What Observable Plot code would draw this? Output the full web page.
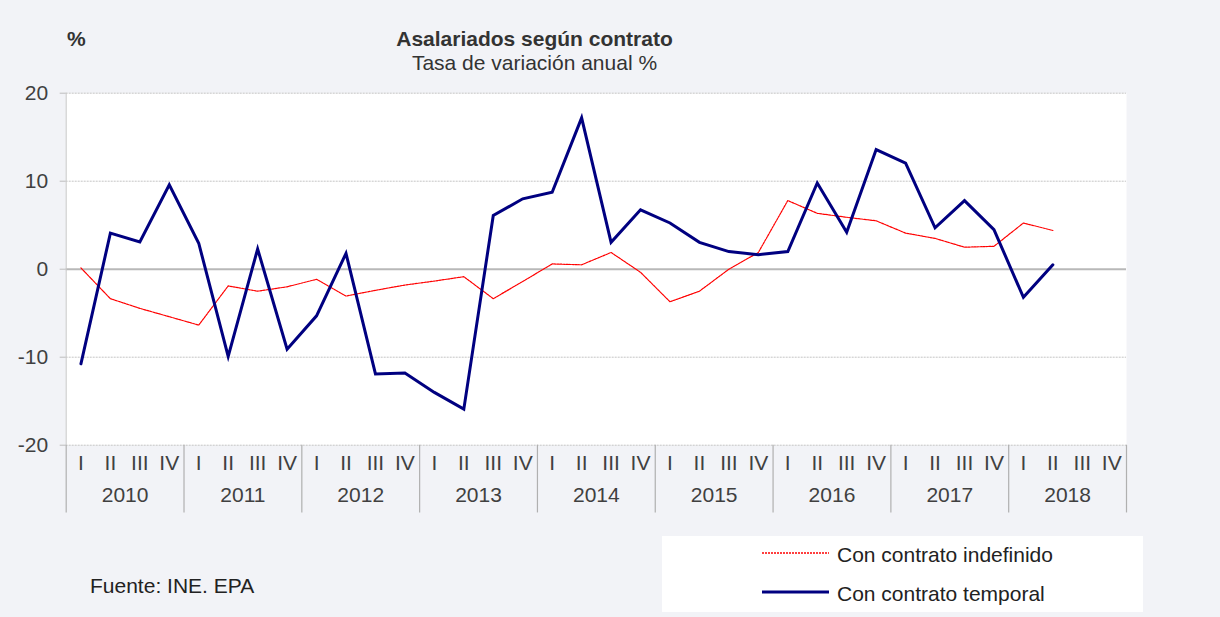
<!DOCTYPE html>
<html>
<head>
<meta charset="utf-8">
<script src="https://cdn.jsdelivr.net/npm/d3@7"></script>
<script src="https://cdn.jsdelivr.net/npm/@observablehq/plot@0.6"></script>
<style>
  html, body { margin: 0; padding: 0; background: #f2f3f7; }
  #wrap { position: relative; width: 1220px; height: 617px; background: #f2f3f7; overflow: hidden;
          font-family: "Liberation Sans", Arial, sans-serif; color: #333; }
  #wrap > svg { position: absolute; left: 0; top: 0; }
  .t { position: absolute; white-space: nowrap; transform: translateY(-50%); font-size: 21px; line-height: 1; }
  #legend { position: absolute; left: 662px; top: 536px; width: 481px; height: 76px; background: #fff; }
  #legend svg { position: absolute; left: 0; top: 0; }
</style>
</head>
<body>
<div id="wrap"></div>
<script>
const quarters = ["I", "II", "III", "IV"];
const years = [2010, 2011, 2012, 2013, 2014, 2015, 2016, 2017, 2018];
const seriesNames = ["Con contrato indefinido", "Con contrato temporal"];
const indefinido = [0.15, -3.35, -4.45, -5.4, -6.35, -1.9, -2.5, -2.0, -1.15, -3.05, -2.4, -1.8,
  -1.35, -0.85, -3.35, -1.4, 0.6, 0.5, 1.9, -0.35, -3.7, -2.5, 0.0, 1.9,
  7.8, 6.35, 5.9, 5.5, 4.1, 3.5, 2.5, 2.6, 5.25, 4.4, null, null];
const temporal = [-10.75, 4.1, 3.1, 9.6, 2.95, -9.9, 2.3, -9.1, -5.3, 1.8, -11.9, -11.8,
  -14.0, -15.9, 6.1, 8.0, 8.75, 17.2, 3.05, 6.75, 5.25, 3.05, 2.0, 1.65,
  2.0, 9.8, 4.2, 13.6, 12.05, 4.7, 7.8, 4.5, -3.2, 0.5, null, null];
const yTicks = [-20, -10, 0, 10, 20];

const rows = [];
years.forEach((yr, yi) => quarters.forEach((q, qi) => {
  const i = yi * 4 + qi;
  rows.push({i, year: yr, q, ind: indefinido[i], tem: temporal[i]});
}));
const yearRows = years.map((yr, yi) => ({year: yr, c: yi * 4 + 1.5}));
const bounds = d3.range(years.length + 1).map(k => k * 4 - 0.5);

const font = '"Liberation Sans", Arial, sans-serif';
const chart = Plot.plot({
  width: 1220, height: 617,
  marginLeft: 65.7, marginRight: 94, marginTop: 92.7, marginBottom: 172.3,
  style: {background: "transparent", fontFamily: font, fontSize: "21px", color: "#404040"},
  x: {domain: [-0.5, 35.5], axis: null},
  y: {domain: [-20, 20], axis: null},
  marks: [
    Plot.frame({fill: "white", stroke: null}),
    Plot.ruleY(yTicks.filter(d => d !== 0), {stroke: "#c4c4c4", strokeDasharray: "2,1", strokeWidth: 1}),
    Plot.ruleY([0], {stroke: "#b8b8b8", strokeWidth: 2}),
    Plot.ruleX([-0.5], {stroke: "#c8c8c8", strokeWidth: 1}),
    Plot.axisY({ticks: yTicks, tickSize: 6, tickPadding: 12, stroke: "#bdbdbd", fill: "#404040", fontSize: 21, tickFormat: d => String(d), label: null}),
    Plot.ruleX(bounds, {y1: -20, y2: -27.7, stroke: "#b0b0b0", strokeWidth: 1.2}),
    Plot.text(rows, {x: "i", text: "q", frameAnchor: "bottom", dy: 25, fill: "#404040", fontSize: 21}),
    Plot.text(yearRows, {x: "c", text: d => String(d.year), frameAnchor: "bottom", dy: 57, fill: "#404040", fontSize: 21}),
    Plot.line(rows, {x: "i", y: "ind", stroke: "#ff0000", strokeWidth: 1.2, strokeDasharray: "2,1"}),
    Plot.line(rows, {x: "i", y: "tem", stroke: "#000080", strokeWidth: 3, strokeLinejoin: "miter", strokeMiterlimit: 4})
  ]
});
const wrap = document.getElementById("wrap");
wrap.appendChild(chart);

function addText(parent, txt, x, y, extra) {
  const d = document.createElement("div");
  d.className = "t";
  d.textContent = txt;
  d.style.left = x + "px";
  d.style.top = y + "px";
  Object.assign(d.style, extra || {});
  parent.appendChild(d);
  return d;
}
addText(wrap, "%", 67, 38, {fontWeight: "bold"});
addText(wrap, "Asalariados según contrato", 534.5, 38, {fontWeight: "bold", transform: "translate(-50%,-50%)"});
addText(wrap, "Tasa de variación anual %", 534.5, 62, {transform: "translate(-50%,-50%)"});
addText(wrap, "Fuente: INE. EPA", 90, 585, {color: "#222"});

const legend = document.createElement("div");
legend.id = "legend";
wrap.appendChild(legend);
const sw = d3.select(legend).append("svg").attr("width", 481).attr("height", 76);
const swStyles = [
  {stroke: "#ff0000", width: 1.5, dash: "2,1", y: 17},
  {stroke: "#000080", width: 3, dash: null, y: 56}
];
seriesNames.forEach((name, k) => {
  const s = swStyles[k];
  sw.append("line").attr("x1", 100).attr("x2", 167).attr("y1", s.y).attr("y2", s.y)
    .attr("stroke", s.stroke).attr("stroke-width", s.width).attr("stroke-dasharray", s.dash);
  addText(legend, name, 175, s.y + 1, {color: "#222"});
});
</script>
</body>
</html>
